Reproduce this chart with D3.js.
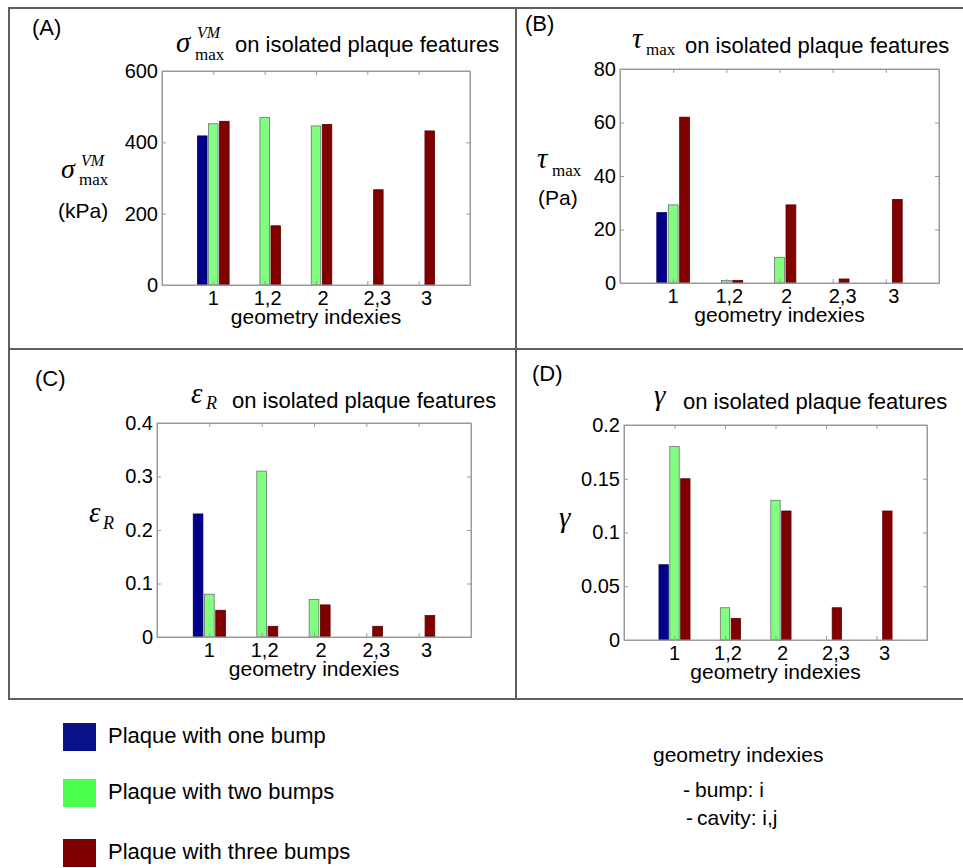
<!DOCTYPE html>
<html>
<head>
<meta charset="utf-8">
<script src="https://cdn.jsdelivr.net/npm/d3@7"></script>
<style>
  html, body { margin: 0; padding: 0; background: #fff; }
  svg { display: block; }
  .sans { font-family: "Liberation Sans", Arial, Helvetica, sans-serif; fill: #000; }
  .serif { font-family: "Liberation Serif", "Times New Roman", serif; fill: #000; }
</style>
</head>
<body>
<svg id="chart" width="963" height="868"></svg>
<script>
// ---------- data ----------
const categories = ["1", "1,2", "2", "2,3", "3"];
const seriesNames = ["Plaque with one bump", "Plaque with two bumps", "Plaque with three bumps"];

// (A) sigma max VM (kPa)
const sigmaOneBump   = [418, null, null, null, null];
const sigmaTwoBumps  = [452, 470, 446, null, null];
const sigmaThreeBumps= [459, 166, 450, 267, 432];
const sigmaTicks = [0, 200, 400, 600];

// (B) tau max (Pa)
const tauOneBump    = [26.3, null, null, null, null];
const tauTwoBumps   = [29.2, 0.9, 9.6, null, null];
const tauThreeBumps = [62, 1.0, 29.2, 1.5, 31.2];
const tauTicks = [0, 20, 40, 60, 80];

// (C) epsilon R
const epsOneBump    = [0.23, null, null, null, null];
const epsTwoBumps   = [0.08, 0.31, 0.07, null, null];
const epsThreeBumps = [0.05, 0.02, 0.06, 0.02, 0.04];
const epsTicks = [0, 0.1, 0.2, 0.3, 0.4];

// (D) gamma
const gammaOneBump    = [0.07, null, null, null, null];
const gammaTwoBumps   = [0.18, 0.03, 0.13, null, null];
const gammaThreeBumps = [0.15, 0.02, 0.12, 0.03, 0.12];
const gammaTicks = [0, 0.05, 0.1, 0.15, 0.2];

// ---------- styles / layout ----------
const barFill   = ["#00008b", "#80ff80", "#800000"];
const barStroke = ["#00005a", "#6f6f6f", "#5a0000"];
const legendFill = ["#0a1289", "#4dff4d", "#7f0000"];
const xLabelNudge = [0, 3, 7, 10, 8];

const svg = d3.select("#chart");
svg.append("rect").attr("width", 963).attr("height", 868).attr("fill", "#fff");

// frame
const frame = svg.append("g").attr("stroke", "#5f5f5f").attr("stroke-width", 2).attr("fill", "none");
frame.append("line").attr("x1", 8).attr("y1", 8).attr("x2", 963).attr("y2", 8);
frame.append("line").attr("x1", 8).attr("y1", 349).attr("x2", 963).attr("y2", 349);
frame.append("line").attr("x1", 8).attr("y1", 699).attr("x2", 963).attr("y2", 699);
frame.append("line").attr("x1", 9).attr("y1", 8).attr("x2", 9).attr("y2", 699);
frame.append("line").attr("x1", 516).attr("y1", 8).attr("x2", 516).attr("y2", 699);

const panels = [
  { key: "A", box: {l: 162, t: 71, r: 470, b: 285}, ymax: 600, ticks: sigmaTicks,
    series: [sigmaOneBump, sigmaTwoBumps, sigmaThreeBumps], letter: {x: 32, y: 35} },
  { key: "B", box: {l: 620, t: 69, r: 939, b: 283}, ymax: 80, ticks: tauTicks,
    series: [tauOneBump, tauTwoBumps, tauThreeBumps], letter: {x: 525, y: 31} },
  { key: "C", box: {l: 157, t: 423, r: 471, b: 637}, ymax: 0.4, ticks: epsTicks,
    series: [epsOneBump, epsTwoBumps, epsThreeBumps], letter: {x: 35, y: 386} },
  { key: "D", box: {l: 624, t: 425, r: 927, b: 640}, ymax: 0.2, ticks: gammaTicks,
    series: [gammaOneBump, gammaTwoBumps, gammaThreeBumps], letter: {x: 532, y: 381} }
];

const groupStep = 0.215, barW = 0.185;

panels.forEach(p => {
  const g = svg.append("g");
  const x = d3.scaleLinear().domain([0, 6]).range([p.box.l, p.box.r]);
  const y = d3.scaleLinear().domain([0, p.ymax]).range([p.box.b, p.box.t]);
  const catPos = categories.map((c, i) => i + 1);

  // bars
  p.series.forEach((vals, s) => {
    g.append("g").selectAll("rect")
      .data(vals.map((v, i) => ({v, i})).filter(d => d.v !== null))
      .join("rect")
      .attr("x", d => x(catPos[d.i] + (s - 1) * groupStep - barW / 2))
      .attr("width", x(barW) - x(0))
      .attr("y", d => y(d.v))
      .attr("height", d => y(0) - y(d.v))
      .attr("fill", barFill[s])
      .attr("stroke", barStroke[s])
      .attr("stroke-width", 0.8);
  });

  // axes (box with inward ticks)
  const fmt = d3.format("~g");
  const axL = g.append("g").attr("transform", `translate(${p.box.l},0)`)
    .call(d3.axisLeft(y).tickValues(p.ticks).tickSize(-4).tickSizeOuter(0).tickPadding(4).tickFormat(fmt));
  const axR = g.append("g").attr("transform", `translate(${p.box.r},0)`)
    .call(d3.axisRight(y).tickValues(p.ticks).tickSize(-4).tickSizeOuter(0).tickFormat(""));
  const axB = g.append("g").attr("transform", `translate(0,${p.box.b})`)
    .call(d3.axisBottom(x).tickValues(catPos).tickSize(-4).tickSizeOuter(0).tickFormat(""));
  const axT = g.append("g").attr("transform", `translate(0,${p.box.t})`)
    .call(d3.axisTop(x).tickValues(catPos).tickSize(-4).tickSizeOuter(0).tickFormat(""));
  [axL, axR, axB, axT].forEach(a => {
    a.select(".domain").attr("stroke", "#9a9a9a");
    a.selectAll(".tick line").attr("stroke", "#9a9a9a");
  });
  axL.selectAll(".tick text").attr("class", "sans").style("font-size", "20px").attr("fill", "#000");
  axL.attr("font-family", null).attr("font-size", null);
  g.append("rect").attr("x", p.box.l).attr("y", p.box.t)
    .attr("width", p.box.r - p.box.l).attr("height", p.box.b - p.box.t)
    .attr("fill", "none").attr("stroke", "#9a9a9a").attr("stroke-width", 1);

  // x tick labels
  g.append("g").selectAll("text").data(categories).join("text")
    .attr("class", "sans").style("font-size", "20px")
    .attr("text-anchor", "middle")
    .attr("x", (c, i) => x(catPos[i]) + xLabelNudge[i])
    .attr("y", p.box.b + 20)
    .text(c => c);

  // x axis label
  g.append("text").attr("class", "sans").style("font-size", "21px")
    .attr("text-anchor", "middle")
    .attr("x", (p.box.l + p.box.r) / 2).attr("y", p.box.b + 39)
    .text("geometry indexies");

  // panel letter
  g.append("text").attr("class", "sans").style("font-size", "22px")
    .attr("x", p.letter.x).attr("y", p.letter.y).text(`(${p.key})`);
});

// helper for text
function t(x, y, str, cls, size, opts = {}) {
  const e = svg.append("text").attr("class", cls).attr("x", x).attr("y", y)
    .style("font-size", size + "px").text(str);
  if (opts.italic) e.style("font-style", "italic");
  if (opts.anchor) e.attr("text-anchor", opts.anchor);
  return e;
}
const titleRest = "on isolated plaque features";

// (A) title & ylabel
t(176, 52, "σ", "serif", 29, {italic: true});
t(197, 38, "VM", "serif", 16, {italic: true});
t(195, 60, "max", "serif", 17);
t(235, 52, titleRest, "sans", 22);
t(61, 178, "σ", "serif", 28, {italic: true});
t(81, 166, "VM", "serif", 16, {italic: true});
t(79, 185, "max", "serif", 17);
t(58, 218, "(kPa)", "sans", 21);

// (B)
t(632, 48, "τ", "serif", 29, {italic: true});
t(646, 55, "max", "serif", 17);
t(685, 53, titleRest, "sans", 22);
t(537, 168, "τ", "serif", 29, {italic: true});
t(552, 176, "max", "serif", 17);
t(538, 205, "(Pa)", "sans", 21);

// (C)
t(191, 403, "ε", "serif", 29, {italic: true});
t(206, 409, "R", "serif", 18, {italic: true});
t(232, 408, titleRest, "sans", 22);
t(89, 522, "ε", "serif", 29, {italic: true});
t(103, 529, "R", "serif", 18, {italic: true});

// (D)
t(654, 405, "γ", "serif", 29, {italic: true});
t(683, 409, titleRest, "sans", 22);
t(559, 527, "γ", "serif", 29, {italic: true});

// legend
const legY = [723, 779, 839];
seriesNames.forEach((name, i) => {
  svg.append("rect").attr("x", 63).attr("y", legY[i]).attr("width", 33).attr("height", 28)
    .attr("fill", legendFill[i]);
  t(108, legY[i] + 20, name, "sans", 22);
});

// note
t(653, 762, "geometry indexies", "sans", 21);
t(683, 797, "-", "sans", 21);
t(695, 797, "bump: i", "sans", 21);
t(686, 825, "-", "sans", 21);
t(697, 825, "cavity: i,j", "sans", 21);
</script>
</body>
</html>
